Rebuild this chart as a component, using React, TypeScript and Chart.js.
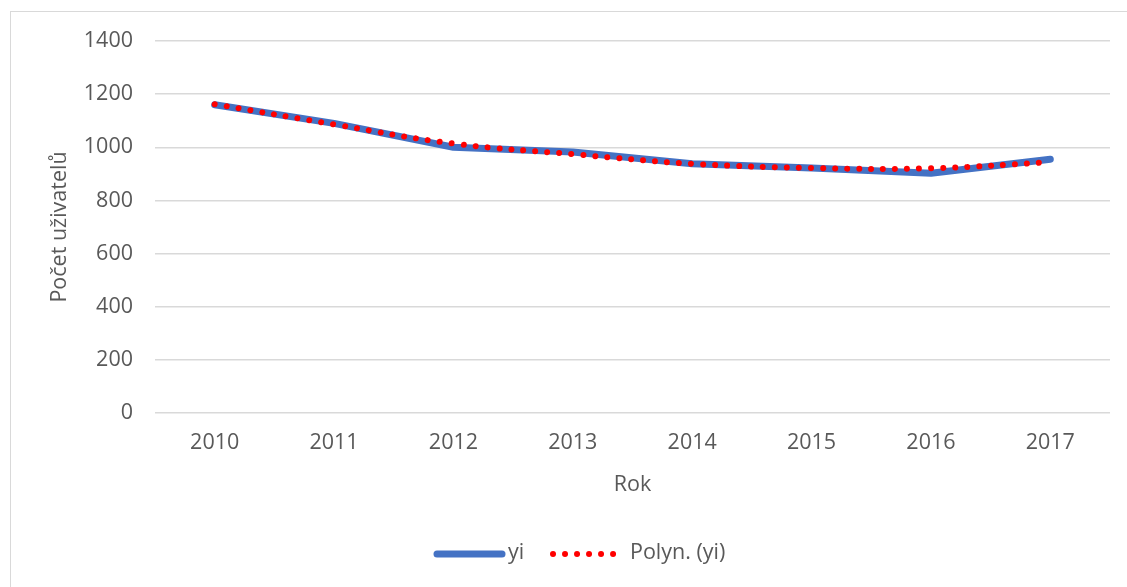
import React, { useEffect, useRef } from "react";
import { Chart, registerables } from "chart.js";

Chart.register(...registerables);

const years = ["2010", "2011", "2012", "2013", "2014", "2015", "2016", "2017"];
const yiValues = [1160, 1090, 1000, 982, 938, 922, 902, 955];
const trendValues = [1162, 1086, 1014, 974, 938, 922, 921, 944];
const yTickMin = 0;
const yTickMax = 1400;
const yTickStep = 200;

const seriesLabel = "yi";
const trendLabel = "Polyn. (yi)";
const xTitle = "Rok";
const yTitle = "Počet uživatelů";

const FONT = "'Open Sans', 'DejaVu Sans', sans-serif";
const FS = 21.5;
const TEXT = "#595959";
const BLUE = "#4472C4";
const RED = "#FF0000";

const legendPlugin = {
  id: "excelLegend",
  afterDraw(chart: any) {
    const ctx = chart.ctx;
    const cy = 554;
    ctx.save();
    ctx.strokeStyle = BLUE;
    ctx.lineWidth = 7;
    ctx.lineCap = "round";
    ctx.beginPath();
    ctx.moveTo(437, cy);
    ctx.lineTo(502, cy);
    ctx.stroke();
    ctx.font = `${FS}px ${FONT}`;
    ctx.fillStyle = TEXT;
    ctx.textBaseline = "middle";
    ctx.textAlign = "left";
    ctx.fillText(seriesLabel, 508, cy - 1);
    ctx.strokeStyle = RED;
    ctx.lineWidth = 6;
    ctx.setLineDash([0.01, 12]);
    ctx.beginPath();
    ctx.moveTo(553, cy);
    ctx.lineTo(618, cy);
    ctx.stroke();
    ctx.setLineDash([]);
    ctx.fillText(trendLabel, 630, cy - 1);
    ctx.restore();
  },
};

export default function App() {
  const canvasRef = useRef<HTMLCanvasElement | null>(null);

  useEffect(() => {
    if (!canvasRef.current) return;
    const chart = new Chart(canvasRef.current, {
      type: "line",
      data: {
        labels: years,
        datasets: [
          {
            label: trendLabel,
            data: trendValues,
            borderColor: RED,
            backgroundColor: RED,
            borderWidth: 6,
            borderDash: [0.01, 12],
            borderCapStyle: "round",
            pointRadius: 0,
            tension: 0.4,
            order: 0,
          },
          {
            label: seriesLabel,
            data: yiValues,
            borderColor: BLUE,
            backgroundColor: BLUE,
            borderWidth: 7,
            borderCapStyle: "round",
            borderJoinStyle: "round",
            pointRadius: 0,
            tension: 0,
            order: 1,
          },
        ],
      },
      options: {
        animation: false,
        responsive: false,
        maintainAspectRatio: false,
        layout: { padding: { left: 0, top: 41, right: 17, bottom: 74 } },
        plugins: {
          legend: { display: false },
          tooltip: { enabled: false },
        },
        scales: {
          x: {
            offset: true,
            grid: { display: false, drawTicks: false },
            border: { display: false },
            ticks: { color: TEXT, font: { family: FONT, size: FS }, padding: 17, maxRotation: 0 },
            title: {
              display: true,
              text: xTitle,
              color: TEXT,
              font: { family: FONT, size: FS },
              padding: { top: 0, bottom: 15 },
            },
            afterFit(axis: any) {
              axis.height = 100;
            },
          },
          y: {
            min: yTickMin,
            max: yTickMax,
            ticks: {
              stepSize: yTickStep,
              color: TEXT,
              font: { family: FONT, size: FS },
              padding: 22,
              callback: (v: any) => String(v),
            },
            grid: { color: "#d9d9d9", lineWidth: 1.5, drawTicks: false },
            border: { display: false },
            title: {
              display: true,
              text: yTitle,
              color: TEXT,
              font: { family: FONT, size: FS },
              padding: { top: 47, bottom: 0 },
            },
            afterFit(axis: any) {
              axis.width = 155;
            },
          },
        },
      },
      plugins: [legendPlugin],
    });
    return () => chart.destroy();
  }, []);

  return (
    <div style={{ position: "absolute", left: 0, top: 0, width: 1127, height: 587, overflow: "hidden", background: "#fff" }}>
      <div
        style={{
          position: "absolute",
          left: 10,
          top: 11,
          width: 1130,
          height: 600,
          border: "1px solid #d9d9d9",
          boxSizing: "border-box",
        }}
      />
      <canvas ref={canvasRef} width={1127} height={587} style={{ position: "absolute", left: 0, top: 0 }} />
    </div>
  );
}
